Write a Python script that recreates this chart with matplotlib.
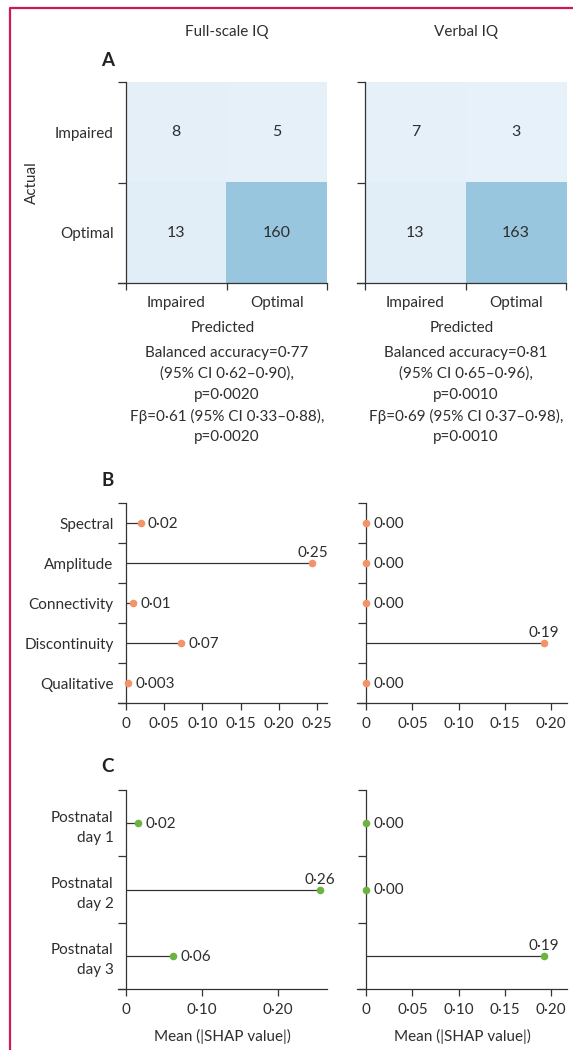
"""Confusion matrices and mean |SHAP| lollipops for full-scale and verbal IQ."""

import matplotlib
matplotlib.use("Agg")
import matplotlib.pyplot as plt
import numpy as np
from matplotlib.colors import LinearSegmentedColormap
from matplotlib.lines import Line2D
from matplotlib.ticker import FuncFormatter

plt.rcParams["font.family"] = ["Lato", "DejaVu Sans"]
plt.rcParams["font.size"] = 11
plt.rcParams["text.color"] = "#2e2e2e"
plt.rcParams["axes.labelcolor"] = "#2e2e2e"
plt.rcParams["xtick.color"] = "#2e2e2e"
plt.rcParams["ytick.color"] = "#2e2e2e"

# ---- data ----
iq_titles = ["Full-scale IQ", "Verbal IQ"]
cm_classes = ["Impaired", "Optimal"]
cm_full = [[8, 5], [13, 160]]
cm_verbal = [[7, 3], [13, 163]]

stats_full = ["Balanced accuracy=0·77", "(95% CI 0·62–0·90),", "p=0·0020",
              "Fβ=0·61 (95% CI 0·33–0·88),", "p=0·0020"]
stats_verbal = ["Balanced accuracy=0·81", "(95% CI 0·65–0·96),", "p=0·0010",
                "Fβ=0·69 (95% CI 0·37–0·98),", "p=0·0010"]

features = ["Spectral", "Amplitude", "Connectivity", "Discontinuity", "Qualitative"]
feat_full = [0.019, 0.244, 0.0096, 0.072, 0.003]
feat_full_labels = ["0·02", "0·25", "0·01", "0·07", "0·003"]
feat_verbal = [0.0, 0.0, 0.0, 0.192, 0.0]
feat_verbal_labels = ["0·00", "0·00", "0·00", "0·19", "0·00"]

days = ["Postnatal\nday 1", "Postnatal\nday 2", "Postnatal\nday 3"]
day_full = [0.016, 0.255, 0.062]
day_full_labels = ["0·02", "0·26", "0·06"]
day_verbal = [0.0, 0.0, 0.192]
day_verbal_labels = ["0·00", "0·00", "0·19"]

INK = "#333333"
ORANGE = "#f4926a"
GREEN = "#6db33f"
BORDER = "#d0185a"
cm_cmap = LinearSegmentedColormap.from_list("cm", ["#e9f2fa", "#98c6de"])

W, H = 573, 1050


def rect(x0, y0, x1, y1):
    """Pixel box (top-left origin) -> figure fraction rect."""
    return [x0 / W, 1 - y1 / H, (x1 - x0) / W, (y1 - y0) / H]


def fx(x):
    return x / W


def fy(y):
    return 1 - y / H


def dot_fmt(v, _):
    if abs(v) < 1e-9:
        return "0"
    return f"{v:.2f}".replace(".", "·")


def style_axes(ax, n_rows):
    for side in ("top", "right"):
        ax.spines[side].set_visible(False)
    ax.spines["left"].set_position(("data", 0))
    for side in ("left", "bottom"):
        ax.spines[side].set_color(INK)
        ax.spines[side].set_linewidth(0.9)
    ax.set_ylim(n_rows, 0)
    ax.set_yticks(np.arange(n_rows + 1))
    ax.set_yticklabels([])
    ax.tick_params(axis="y", which="major", length=6, width=0.9, color=INK)
    ax.tick_params(axis="x", which="major", length=5, width=0.9, color=INK,
                   pad=5, labelsize=11)
    ax.set_facecolor("none")


def confusion(ax, mat):
    mat = np.array(mat)
    ax.imshow(mat, cmap=cm_cmap, vmin=0, vmax=160, extent=(0, 2, 2, 0),
              aspect="auto", interpolation="nearest", zorder=0)
    for i in range(2):
        for j in range(2):
            ax.text(j + 0.5, i + 0.5, str(mat[i, j]), ha="center", va="center",
                    fontsize=11.5)
    style_axes(ax, 2)
    ax.set_xlim(-8 / 100.5, 2)
    ax.set_xticks([0, 1, 2])
    ax.set_xticklabels([])
    ax.set_xticks([0.5, 1.5], minor=True)
    ax.set_xticklabels(cm_classes, minor=True)
    ax.tick_params(axis="x", which="minor", length=0, pad=9.5, labelsize=11)


def lollipop(ax, names, values, labels, color, xmax, step, left_px, names_shown):
    n = len(names)
    y = np.arange(n) + 0.5
    ax.hlines(y, 0, values, color=INK, lw=0.9, zorder=2)
    ax.scatter(values, y, s=30, color=color, zorder=3, linewidths=0, clip_on=False)
    for v, yy, lab in zip(values, y, labels):
        if v > 0.15:
            ax.annotate(lab, (v, yy), xytext=(0, 6), textcoords="offset pixels",
                        ha="center", va="baseline", fontsize=11)
        else:
            ax.annotate(lab, (v, yy), xytext=(7, -5), textcoords="offset pixels",
                        ha="left", va="baseline", fontsize=11)
    style_axes(ax, n)
    ax.set_xlim(-xmax * left_px, xmax)
    ax.set_xticks(np.arange(0, xmax + 1e-9, step))
    ax.xaxis.set_major_formatter(FuncFormatter(dot_fmt))
    if names_shown:
        ax.set_yticks(y, minor=True)
        ax.set_yticklabels(names, minor=True, linespacing=1.55)
        ax.tick_params(axis="y", which="minor", length=0, pad=9, labelsize=11)


fig = plt.figure(figsize=(W / 100, H / 100), dpi=100)

# column titles and panel letters
fig.text(fx(227), fy(32), iq_titles[0], ha="center", va="center", fontsize=11)
fig.text(fx(466), fy(32), iq_titles[1], ha="center", va="center", fontsize=11)
for letter, ypx in [("A", 61), ("B", 481), ("C", 767)]:
    fig.text(fx(108), fy(ypx), letter, ha="center", va="center",
             fontsize=13.5, fontweight="bold", color="#222222")

# panel A
ax_a1 = fig.add_axes(rect(118, 82, 327, 283))
confusion(ax_a1, cm_full)
ax_a1.set_yticks([0.5, 1.5], minor=True)
ax_a1.set_yticklabels(cm_classes, minor=True)
ax_a1.tick_params(axis="y", which="minor", length=0, pad=9, labelsize=11)
ax_a1.set_xlabel("Predicted", labelpad=8)

ax_a2 = fig.add_axes(rect(357, 82, 566, 283))
confusion(ax_a2, cm_verbal)
ax_a2.set_xlabel("Predicted", labelpad=8)

fig.text(fx(32), fy(183), "Actual", rotation=90, ha="center", va="center",
         fontsize=11)

for xpx, lines in [(227, stats_full), (466, stats_verbal)]:
    for k, line in enumerate(lines):
        fig.text(fx(xpx), fy(353 + 21 * k), line, ha="center", va="center",
                 fontsize=11)

# panel B
ax_b1 = fig.add_axes(rect(118, 503, 327, 703))
lollipop(ax_b1, features, feat_full, feat_full_labels, ORANGE,
         0.263, 0.05, 8 / 201, True)
ax_b2 = fig.add_axes(rect(357, 503, 567, 703))
lollipop(ax_b2, features, feat_verbal, feat_verbal_labels, ORANGE,
         0.217, 0.05, 9 / 201, False)

# panel C
ax_c1 = fig.add_axes(rect(118, 790, 327, 989))
lollipop(ax_c1, days, day_full, day_full_labels, GREEN,
         0.264, 0.10, 8 / 201, True)
ax_c1.set_xlabel("Mean (|SHAP value|)", labelpad=9)
ax_c2 = fig.add_axes(rect(357, 790, 567, 989))
lollipop(ax_c2, days, day_verbal, day_verbal_labels, GREEN,
         0.217, 0.05, 9 / 201, False)
ax_c2.set_xlabel("Mean (|SHAP value|)", labelpad=9)

# journal frame
fig.add_artist(Line2D([fx(10), fx(10), 1.0], [0.0, fy(8), fy(8)],
                      color=BORDER, lw=1.6, transform=fig.transFigure))

fig.savefig("out.png", dpi=100, facecolor="white")
